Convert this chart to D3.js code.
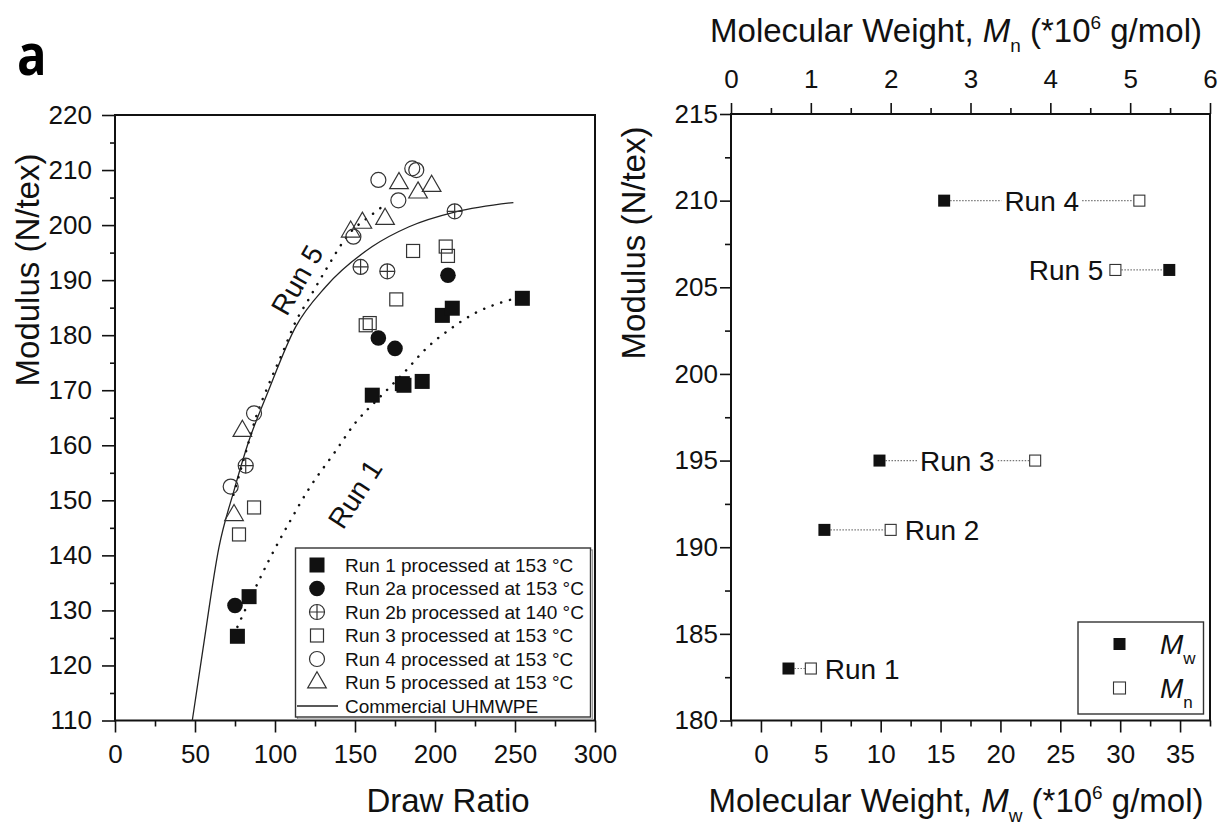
<!DOCTYPE html>
<html>
<head>
<meta charset="utf-8">
<script src="https://cdn.jsdelivr.net/npm/d3@7/dist/d3.min.js"></script>
<style>
  html, body { margin: 0; padding: 0; background: #fff; }
  svg { display: block; font-family: "Liberation Sans", Arial, sans-serif; }
  .tick text { fill: #111; }
</style>
</head>
<body>
<div id="chart"></div>
<script>
// ---- left panel: modulus vs draw ratio ----
const run1 = [[76.5,125.3],[83.8,132.5],[160.8,169.1],[179.6,171.2],[180.6,170.9],[192,171.6],[204.6,183.6],[210.8,184.9],[254.6,186.7]];
const run2a = [[75,130.9],[164.6,179.5],[175,177.6],[208.1,190.9]];
const run2b = [[81.7,156.3],[153.5,192.4],[170.2,191.6],[212.3,202.5]];
const run3 = [[77.5,143.8],[86.9,148.7],[156.7,181.8],[159.2,182.2],[175.8,186.5],[186.3,195.3],[206.7,196.1],[208.1,194.4]];
const run4 = [[72.3,152.5],[86.9,165.8],[149,197.9],[164.6,208.2],[177.1,204.5],[185.8,210.3],[188.3,210.0]];
const run5 = [[74.4,147.3],[79.6,162.6],[147.3,198.8],[154.6,200.4],[168.8,201.1],[177.5,207.6],[189.4,205.9],[197.9,207.1]];
const commercial = [[48.3,110],[55,123],[65,141.5],[74.4,151.8],[83.8,160.9],[95.2,169.4],[112.9,181.5],[131.7,188.8],[160.8,196.1],[183.8,199.7],[212.9,202.4],[249,204.1]];
const run1Fit = [[76.5,127],[86,133],[96,139],[109,146],[121,152],[138,159],[150,164],[163,168],[180,173],[196,178],[209,181],[225,184],[242,186],[255,187]];
const run5Fit = [[74,151],[82,159],[88,165],[96,171],[105,177],[113,182.5],[121,186.5],[132,192],[146,198.3],[161,202],[170,204]];
const legendLabels = ['Run 1 processed at 153 °C','Run 2a processed at 153 °C','Run 2b processed at 140 °C',
  'Run 3 processed at 153 °C','Run 4 processed at 153 °C','Run 5 processed at 153 °C','Commercial UHMWPE'];
const drawTicks = [0,50,100,150,200,250,300];
const modTicks = d3.range(110, 221, 10);

// ---- right panel: modulus vs molecular weight ----
const runNames = ['Run 1','Run 2','Run 3','Run 4','Run 5'];
const runModulus = [183, 191, 195, 210, 206];
const runMw = [2.3, 5.3, 9.9, 15.3, 34.1];
const runMn = [1.0, 2.0, 3.81, 5.115, 4.815];
const mwTicks = [0,5,10,15,20,25,30,35];
const mnTicks = [0,1,2,3,4,5,6];
const modTicksR = [180,185,190,195,200,205,210,215];

const W = 1225, H = 827;
const svg = d3.select('#chart').append('svg')
  .attr('width', W).attr('height', H).attr('viewBox', `0,0,${W},${H}`);

const ink = '#111';
const FS_TICK = 26, FS_TITLE = 33;

function styleAxis(g, fs) {
  g.select('.domain').remove();
  g.selectAll('.tick line').attr('stroke', ink).attr('stroke-width', 1.6);
  g.selectAll('.tick text').attr('font-size', fs).attr('font-family', '"Liberation Sans", Arial, sans-serif');
}

// symbol helpers
function marker(g, type, x, y) {
  const s = g.append('g').attr('transform', `translate(${x},${y})`);
  if (type === 'fsq') {
    s.append('rect').attr('x', -7.5).attr('y', -7.5).attr('width', 15).attr('height', 15).attr('fill', ink);
  } else if (type === 'fci') {
    s.append('circle').attr('r', 7.8).attr('fill', ink);
  } else if (type === 'cplus') {
    s.append('circle').attr('r', 7.5).attr('fill', 'none').attr('stroke', '#333').attr('stroke-width', 1.2);
    s.append('path').attr('d', 'M-7.5,0H7.5M0,-7.5V7.5').attr('stroke', '#333').attr('stroke-width', 1.2);
  } else if (type === 'osq') {
    s.append('rect').attr('x', -6.5).attr('y', -6.5).attr('width', 13).attr('height', 13)
      .attr('fill', 'none').attr('stroke', '#333').attr('stroke-width', 1.2);
  } else if (type === 'oci') {
    s.append('circle').attr('r', 7.5).attr('fill', 'none').attr('stroke', '#333').attr('stroke-width', 1.2);
  } else if (type === 'otri') {
    s.append('path').attr('d', d3.symbol(d3.symbolTriangle, 150)())
      .attr('fill', 'none').attr('stroke', '#333').attr('stroke-width', 1.2);
  }
  return s;
}

// ================= LEFT PANEL =================
const xL = d3.scaleLinear([0, 300], [115, 595]);
const yL = d3.scaleLinear([110, 220], [720.5, 115]);

const left = svg.append('g').attr('class', 'left');

// minor ticks
left.append('g').attr('transform', `translate(0,${yL(110)})`)
  .call(d3.axisBottom(xL).tickValues(d3.range(25, 300, 50)).tickSize(6).tickFormat(''))
  .call(g => styleAxis(g, FS_TICK));
left.append('g').attr('transform', `translate(0,${yL(110)})`)
  .call(d3.axisBottom(xL).tickValues(drawTicks).tickSize(12).tickPadding(12))
  .call(g => styleAxis(g, FS_TICK));
left.append('g').attr('transform', `translate(${xL(0)},0)`)
  .call(d3.axisLeft(yL).tickValues(d3.range(115, 220, 10)).tickSize(5).tickFormat(''))
  .call(g => styleAxis(g, FS_TICK));
left.append('g').attr('transform', `translate(${xL(0)},0)`)
  .call(d3.axisLeft(yL).tickValues(modTicks).tickSize(13).tickPadding(10))
  .call(g => styleAxis(g, FS_TICK));

left.append('rect').attr('x', xL(0)).attr('y', yL(220))
  .attr('width', xL(300) - xL(0)).attr('height', yL(110) - yL(220))
  .attr('fill', 'none').attr('stroke', ink).attr('stroke-width', 2);

const lineL = d3.line().x(d => xL(d[0])).y(d => yL(d[1])).curve(d3.curveMonotoneX);
left.append('path').datum(commercial).attr('d', lineL)
  .attr('fill', 'none').attr('stroke', '#222').attr('stroke-width', 1.3);
[run1Fit, run5Fit].forEach(f => {
  left.append('path').datum(f).attr('d', lineL)
    .attr('fill', 'none').attr('stroke', ink).attr('stroke-width', 2.5)
    .attr('stroke-linecap', 'round').attr('stroke-dasharray', '0.1 9');
});

const series = [[run1, 'fsq'], [run2a, 'fci'], [run2b, 'cplus'], [run3, 'osq'], [run4, 'oci'], [run5, 'otri']];
series.forEach(([pts, type]) => pts.forEach(p => marker(left, type, xL(p[0]), yL(p[1]))));

left.append('text').attr('transform', 'translate(297,280) rotate(-60)')
  .attr('text-anchor', 'middle').attr('dy', '0.35em').attr('font-size', 28).attr('fill', ink).text('Run 5');
left.append('text').attr('transform', 'translate(355,494) rotate(-57)')
  .attr('text-anchor', 'middle').attr('dy', '0.35em').attr('font-size', 28).attr('fill', ink).text('Run 1');

// legend
const lg = left.append('g');
lg.append('rect').attr('x', 297.5).attr('y', 550).attr('width', 295).attr('height', 169)
  .attr('fill', 'none').attr('stroke', '#999').attr('stroke-width', 1.2);
lg.append('rect').attr('x', 295.5).attr('y', 548).attr('width', 295).attr('height', 169)
  .attr('fill', '#fff').attr('stroke', '#333').attr('stroke-width', 1.4);
const legendTypes = ['fsq','fci','cplus','osq','oci','otri','line'];
legendLabels.forEach((lab, i) => {
  const y = 565 + i * 23.5;
  if (legendTypes[i] === 'line') {
    lg.append('line').attr('x1', 297).attr('x2', 338).attr('y1', y).attr('y2', y)
      .attr('stroke', '#222').attr('stroke-width', 1.3);
  } else {
    marker(lg, legendTypes[i], 317, y);
  }
  lg.append('text').attr('x', 345).attr('y', y).attr('dy', '0.36em')
    .attr('font-size', 19).attr('fill', ink).text(lab);
});

svg.append('text').attr('x', 448).attr('y', 812).attr('text-anchor', 'middle')
  .attr('font-size', FS_TITLE).attr('fill', ink).text('Draw Ratio');
svg.append('text').attr('transform', 'translate(39,270) rotate(-90)').attr('text-anchor', 'middle')
  .attr('font-size', FS_TITLE).attr('fill', ink).text('Modulus (N/tex)');

svg.append('text').attr('transform', 'translate(17,75) scale(0.86,1)')
  .attr('font-family', '"Open Sans", sans-serif').attr('font-weight', 700)
  .attr('font-size', 57).attr('fill', '#000').text('a');

// ================= RIGHT PANEL =================
const xW = d3.scaleLinear([-2.5, 37.5], [731, 1210]);
const xN = d3.scaleLinear([0, 6], [731, 1210]);
const yR = d3.scaleLinear([180, 215], [720.5, 114]);
const right = svg.append('g').attr('class', 'right');

right.append('g').attr('transform', `translate(0,${yR(180)})`)
  .call(d3.axisBottom(xW).tickValues(d3.range(-2.5, 38, 5)).tickSize(6).tickFormat(''))
  .call(g => styleAxis(g, FS_TICK));
right.append('g').attr('transform', `translate(0,${yR(180)})`)
  .call(d3.axisBottom(xW).tickValues(mwTicks).tickSize(12).tickPadding(12))
  .call(g => styleAxis(g, FS_TICK));
right.append('g').attr('transform', `translate(0,${yR(215)})`)
  .call(d3.axisTop(xN).tickValues(d3.range(0.5, 6, 1)).tickSize(6).tickFormat(''))
  .call(g => styleAxis(g, FS_TICK));
right.append('g').attr('transform', `translate(0,${yR(215)})`)
  .call(d3.axisTop(xN).tickValues(mnTicks).tickSize(11).tickPadding(15).tickFormat(d3.format('d')))
  .call(g => styleAxis(g, FS_TICK));
right.append('g').attr('transform', `translate(${xW(-2.5)},0)`)
  .call(d3.axisLeft(yR).tickValues(d3.range(182.5, 215, 5)).tickSize(6).tickFormat(''))
  .call(g => styleAxis(g, FS_TICK));
right.append('g').attr('transform', `translate(${xW(-2.5)},0)`)
  .call(d3.axisLeft(yR).tickValues(modTicksR).tickSize(11).tickPadding(2))
  .call(g => styleAxis(g, FS_TICK));

right.append('rect').attr('x', xW(-2.5)).attr('y', yR(215))
  .attr('width', xW(37.5) - xW(-2.5)).attr('height', yR(180) - yR(215))
  .attr('fill', 'none').attr('stroke', ink).attr('stroke-width', 2);

function dotted(x1, x2, y) {
  right.append('line').attr('x1', x1).attr('x2', x2).attr('y1', y).attr('y2', y)
    .attr('stroke', '#777').attr('stroke-width', 1.2).attr('stroke-dasharray', '1.5 1.5');
}

runNames.forEach((name, i) => {
  const y = yR(runModulus[i]);
  const xf = xW(runMw[i]), xo = xN(runMn[i]);
  const t = right.append('text').attr('y', y).attr('dy', '0.36em')
    .attr('font-size', 28).attr('fill', ink).text(name);
  if (xo > xf + 120) {
    // label sits in the middle of the connector
    const mid = (xf + xo) / 2;
    t.attr('x', mid).attr('text-anchor', 'middle');
    const w = t.node().getComputedTextLength();
    dotted(xf + 6, mid - w / 2 - 3, y);
    dotted(mid + w / 2 + 3, xo - 6, y);
  } else if (xo < xf) {
    t.attr('x', xo - 12).attr('text-anchor', 'end');
    dotted(xo + 6, xf - 6, y);
  } else {
    t.attr('x', xo + 14).attr('text-anchor', 'start');
    dotted(xf + 6, xo - 6, y);
  }
  right.append('rect').attr('x', xf - 6).attr('y', y - 6).attr('width', 12).attr('height', 12).attr('fill', ink);
  right.append('rect').attr('x', xo - 5.5).attr('y', y - 5.5).attr('width', 11).attr('height', 11)
    .attr('fill', '#fff').attr('stroke', '#333').attr('stroke-width', 1.1);
});

// right legend
const rl = right.append('g');
rl.append('rect').attr('x', 1078).attr('y', 622).attr('width', 125.5).attr('height', 92)
  .attr('fill', '#fff').attr('stroke', '#333').attr('stroke-width', 1.4);
[['w', true], ['n', false]].forEach(([sub, filled], i) => {
  const y = 644 + i * 44;
  rl.append('rect').attr('x', 1119.5 - 6).attr('y', y - 6).attr('width', 12).attr('height', 12)
    .attr('fill', filled ? ink : '#fff').attr('stroke', filled ? 'none' : '#333').attr('stroke-width', 1.1);
  const t = rl.append('text').attr('x', 1160).attr('y', y).attr('dy', '0.36em')
    .attr('font-size', 28).attr('fill', ink);
  t.append('tspan').attr('font-style', 'italic').text('M');
  t.append('tspan').attr('font-size', 17).attr('dy', 10).text(sub);
});

// right titles
function mwTitle(y, sub) {
  const t = svg.append('text').attr('x', 956).attr('y', y).attr('text-anchor', 'middle')
    .attr('font-size', FS_TITLE).attr('fill', ink);
  t.append('tspan').text('Molecular Weight, ');
  t.append('tspan').attr('font-style', 'italic').text('M');
  t.append('tspan').attr('font-size', 19).attr('dy', 10).text(sub);
  t.append('tspan').attr('dy', -10).text(' (*10');
  t.append('tspan').attr('font-size', 19).attr('dy', -13).text('6');
  t.append('tspan').attr('dy', 13).text(' g/mol)');
}
mwTitle(42, 'n');
mwTitle(812, 'w');
svg.append('text').attr('transform', 'translate(645,243) rotate(-90)').attr('text-anchor', 'middle')
  .attr('font-size', FS_TITLE).attr('fill', ink).text('Modulus (N/tex)');
</script>
</body>
</html>
